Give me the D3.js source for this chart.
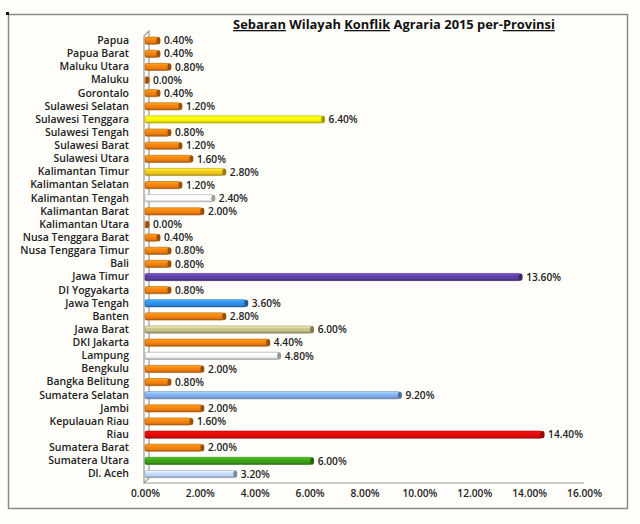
<!DOCTYPE html>
<html>
<head>
<meta charset="utf-8">
<script src="https://cdn.jsdelivr.net/npm/d3@7"></script>
<style>
  html, body { margin: 0; padding: 0; background: #ffffff; }
  svg { display: block; }
</style>
</head>
<body>
<svg id="chart" width="640" height="524"></svg>
<script>
const categories = [
  "Papua", "Papua Barat", "Maluku Utara", "Maluku", "Gorontalo",
  "Sulawesi Selatan", "Sulawesi Tenggara", "Sulawesi Tengah", "Sulawesi Barat", "Sulawesi Utara",
  "Kalimantan Timur", "Kalimantan Selatan", "Kalimantan Tengah", "Kalimantan Barat", "Kalimantan Utara",
  "Nusa Tenggara Barat", "Nusa Tenggara Timur", "Bali", "Jawa Timur", "DI Yogyakarta",
  "Jawa Tengah", "Banten", "Jawa Barat", "DKI Jakarta", "Lampung",
  "Bengkulu", "Bangka Belitung", "Sumatera Selatan", "Jambi", "Kepulauan Riau",
  "Riau", "Sumatera Barat", "Sumatera Utara", "Dl. Aceh"
];
const values = [
  0.40, 0.40, 0.80, 0.00, 0.40,
  1.20, 6.40, 0.80, 1.20, 1.60,
  2.80, 1.20, 2.40, 2.00, 0.00,
  0.40, 0.80, 0.80, 13.60, 0.80,
  3.60, 2.80, 6.00, 4.40, 4.80,
  2.00, 0.80, 9.20, 2.00, 1.60,
  14.40, 2.00, 6.00, 3.20
];
const xTicks = [0, 2, 4, 6, 8, 10, 12, 14, 16];
const titleParts = [
  ["Sebaran", true], [" Wilayah ", false], ["Konflik", true],
  [" Agraria 2015 per-", false], ["Provinsi", true]
];

// bar colour per category (default orange)
const defaultColor = "#ea7d10";
const specialColors = {
  "Sulawesi Tenggara": "#f2ee0a",
  "Kalimantan Timur": "#e9c21c",
  "Kalimantan Tengah": "#fbfbfb",
  "Jawa Timur": "#5b3d9e",
  "Jawa Tengah": "#2f8be3",
  "Jawa Barat": "#c2bc86",
  "Lampung": "#f0f0f0",
  "Sumatera Selatan": "#7fa8e8",
  "Riau": "#dc0a0a",
  "Sumatera Utara": "#3c9a18",
  "Dl. Aceh": "#bcd3f2"
};

const data = categories.map((c, i) => ({ cat: c, val: values[i], color: specialColors[c] || defaultColor }));

const svg = d3.select("#chart");
const W = 640, H = 524;
svg.append("rect").attr("width", W).attr("height", H).attr("fill", "#fffefb");

// outer frame
svg.append("rect").attr("x", 8.5).attr("y", 14.5).attr("width", 619).attr("height", 494)
  .attr("fill", "none").attr("stroke", "#8a8a8a").attr("stroke-width", 1.5);
svg.append("rect").attr("x", 6).attr("y", 12).attr("width", 3).attr("height", 3).attr("fill", "#111");

const FONT = "'Open Sans', 'Noto Sans', sans-serif";
const CAT = 10.5, LBL = 10.2;

// title
const title = svg.append("text").attr("x", 394).attr("y", 29).attr("text-anchor", "middle")
  .attr("font-family", FONT).attr("font-weight", "bold").attr("font-size", 12.9).attr("fill", "#111");
titleParts.forEach(([t, u]) => {
  title.append("tspan").text(t).attr("text-decoration", u ? "underline" : null);
});

const x = d3.scaleLinear().domain([0, 16]).range([145, 584]);
const y = d3.scaleBand().domain(categories).range([34.1, 480.6]).paddingInner(0.45).paddingOuter(0.225);

// gradients
const defs = svg.append("defs");
const uniqColors = Array.from(new Set(data.map(d => d.color)));
const gradId = c => "g" + c.replace("#", "");
uniqColors.forEach(c => {
  const base = d3.color(c);
  const g = defs.append("linearGradient").attr("id", gradId(c))
    .attr("x1", 0).attr("y1", 0).attr("x2", 0).attr("y2", 1);
  g.append("stop").attr("offset", "0%").attr("stop-color", base.brighter(0.9).formatHex());
  g.append("stop").attr("offset", "35%").attr("stop-color", base.brighter(0.2).formatHex());
  g.append("stop").attr("offset", "70%").attr("stop-color", base.formatHex());
  g.append("stop").attr("offset", "100%").attr("stop-color", base.darker(1.0).formatHex());
});

// axes (3D wall)
const axisCol = "#9a9a9a";
const yTop = 31, yBot = 483;
svg.append("path")
  .attr("d", `M${x(0) - 1},${yTop + 5} L${x(0) + 4},${yTop} V${yBot - 5} L${x(0) - 1},${yBot} Z`)
  .attr("fill", "#fdfdfb").attr("stroke", axisCol).attr("stroke-width", 1.2);

const xAxis = d3.axisBottom(x).tickValues(xTicks).tickSize(0).tickPadding(7)
  .tickFormat(d => d3.format(".2f")(d) + "%");
const gx = svg.append("g").attr("transform", `translate(0,${yBot})`).call(xAxis);
gx.select(".domain").attr("stroke", axisCol).attr("stroke-width", 1.2).attr("d", `M${x(0) - 1},0H${x(16)}`);
gx.selectAll("text").attr("font-family", FONT).attr("font-weight", 600).attr("font-size", LBL).attr("fill", "#222");

const yAxis = d3.axisLeft(y).tickSize(0).tickPadding(0);
const gy = svg.append("g").attr("transform", `translate(129,0)`).call(yAxis);
gy.select(".domain").remove();
gy.selectAll("text").attr("font-family", FONT).attr("font-weight", 600).attr("font-size", CAT).attr("fill", "#222");

// bars
const bh = 7.2;
const bars = svg.append("g").selectAll("g").data(data).join("g")
  .attr("transform", d => `translate(0,${y(d.cat) + y.bandwidth() / 2 - bh / 2})`);

bars.append("rect")
  .attr("x", x(0))
  .attr("y", 0)
  .attr("width", d => Math.max(0, x(d.val) - x(0) + 2))
  .attr("height", bh)
  .attr("rx", 1.5)
  .attr("fill", d => `url(#${gradId(d.color)})`)
  .attr("stroke", d => d3.color(d.color).darker(d.color === "#fbfbfb" || d.color === "#f0f0f0" ? 1.2 : 0.8).formatHex())
  .attr("stroke-width", 0.6);

// 3D end cap
bars.append("ellipse")
  .attr("cx", d => x(d.val) + 2.5)
  .attr("cy", bh / 2)
  .attr("rx", 2)
  .attr("ry", bh / 2)
  .attr("fill", d => d3.color(d.color).darker(d.color === "#fbfbfb" || d.color === "#f0f0f0" ? 1.3 : 1.2).formatHex());

// value labels
bars.append("text")
  .attr("x", d => x(d.val) + 8)
  .attr("y", bh / 2)
  .attr("dy", "0.36em")
  .attr("font-family", FONT).attr("font-weight", 600).attr("font-size", LBL).attr("fill", "#222")
  .text(d => d3.format(".2f")(d.val) + "%");
</script>
</body>
</html>
